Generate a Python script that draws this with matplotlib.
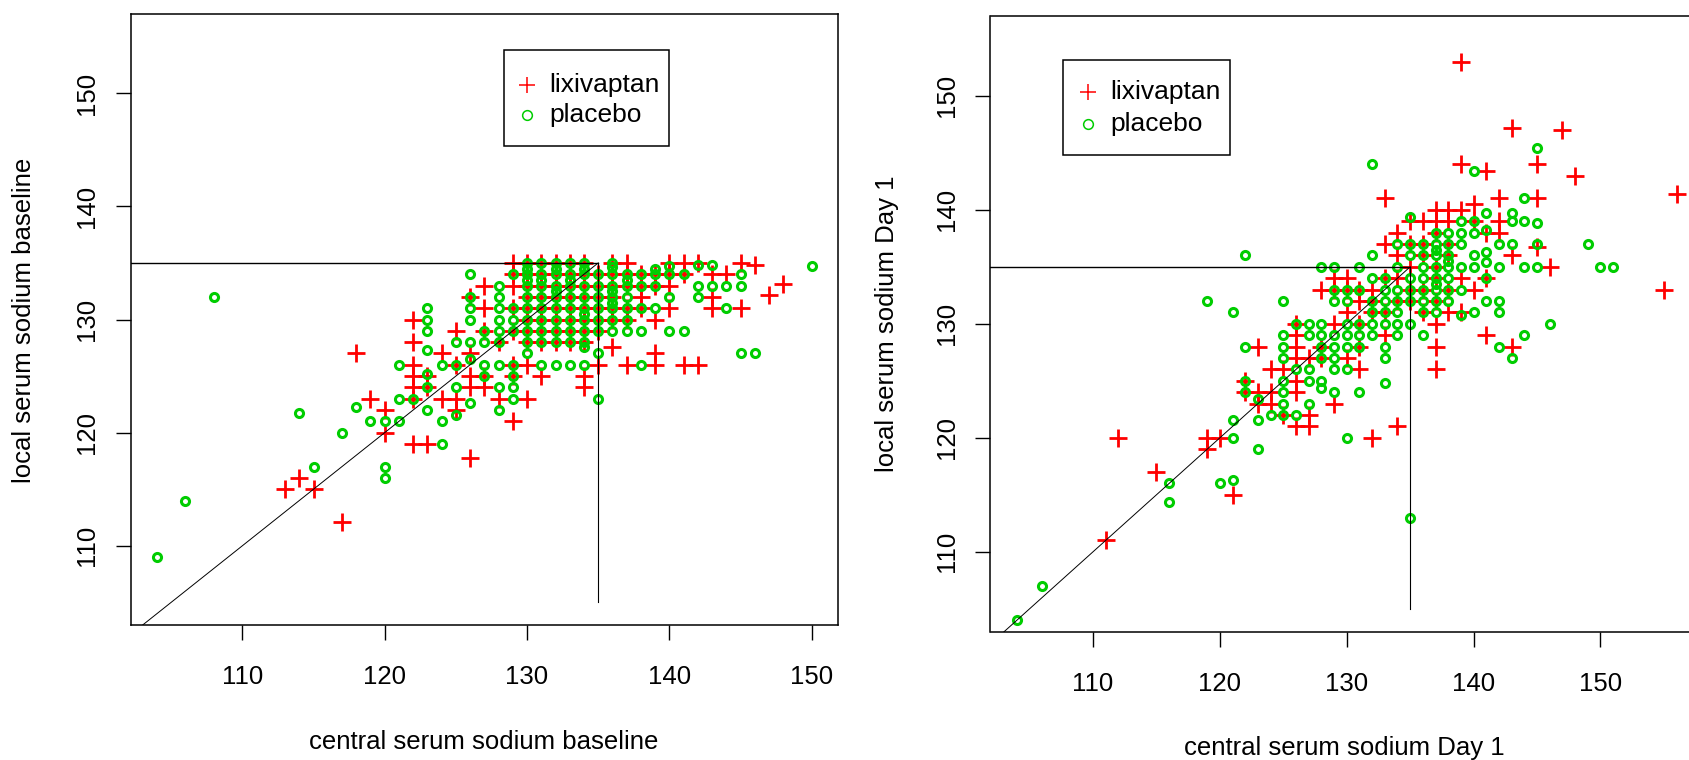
"""Central vs local serum sodium, baseline and Day 1 (two scatter panels)."""

import matplotlib
matplotlib.use("Agg")

import matplotlib.pyplot as plt
from matplotlib.lines import Line2D
from matplotlib.patches import Rectangle

plt.rcParams["font.family"] = ["Liberation Sans", "DejaVu Sans"]

# ==========================================================
# DATA  (x = central, y = local)
# ==========================================================

# --- baseline, lixivaptan ---
base_lix_x = [113, 114, 115, 117, 118, 119, 120, 120,
              122, 122, 122, 122, 122, 122, 122, 123, 123, 123,
              124, 124, 125, 125, 125, 125, 126, 126, 126, 126, 126,
              127, 127, 127, 127, 127, 128, 128,
              129, 129, 129, 129, 129, 129, 129, 129,
              130, 130, 130, 130, 130, 130, 130, 130, 130, 130,
              131, 131, 131, 131, 131, 131, 131, 131, 131,
              132, 132, 132, 132, 132, 132, 132, 132,
              133, 133, 133, 133, 133, 133, 133, 133,
              134, 134, 134, 134, 134, 134, 134, 134, 134, 134,
              135, 135, 135, 135, 135, 135, 135,
              136, 136, 136, 136, 136, 136, 136,
              137, 137, 137, 137, 137, 137,
              138, 138, 138, 138,
              139, 139, 139, 139, 139,
              140, 140, 140, 140,
              141, 141, 141, 142, 142,
              143, 143, 143, 144, 145, 145, 146, 147, 148]
base_lix_y = [115, 116, 115, 112.1, 127, 123, 122, 120,
              130, 128, 126, 125, 124, 123, 119, 119, 125, 124,
              127, 123, 129, 126, 123, 122, 132, 127, 125, 124, 117.8,
              133, 131, 129, 125, 124, 128, 123,
              135, 134, 133, 131, 129, 126, 125, 121,
              135, 134, 133, 132, 131, 130, 129, 128, 126, 123,
              135, 134, 133, 132, 131, 130, 129, 128, 125,
              135, 134, 133, 132, 131, 130, 129, 128,
              135, 134, 133, 132, 131, 130, 129, 128,
              135, 134, 133, 132, 131, 130, 129, 128, 125, 124,
              134, 133, 132, 131, 130, 129, 126,
              135, 134, 133, 132, 131, 130, 127.6,
              135, 134, 133, 131, 130, 126,
              134, 133, 132, 131,
              134, 133, 130, 127, 126,
              135, 134, 133, 131,
              135, 134, 126, 135, 126,
              134, 132, 131, 134, 135, 131, 134.8, 132.2, 133.1]

# --- baseline, placebo ---
base_pla_x = [104, 106, 108, 114, 115, 117, 118, 119, 120, 120, 120,
              121, 121, 121, 122, 123, 123, 123, 123, 123, 123, 123,
              124, 124, 124, 125, 125, 125, 125,
              126, 126, 126, 126, 126, 126, 126,
              127, 127, 127, 127,
              128, 128, 128, 128, 128, 128, 128, 128, 128,
              129, 129, 129, 129, 129, 129, 129, 129,
              130, 130, 130, 130, 130, 130, 130, 130, 130, 130, 130,
              131, 131, 131, 131, 131, 131, 131, 131, 131, 131,
              132, 132, 132, 132, 132, 132, 132, 132, 132, 132, 132,
              133, 133, 133, 133, 133, 133, 133, 133, 133, 133,
              134, 134, 134, 134, 134, 134, 134, 134, 134, 134, 134, 134,
              135, 135, 135, 135, 135, 135, 135, 135,
              136, 136, 136, 136, 136, 136, 136, 136, 136, 136,
              137, 137, 137, 137, 137, 137, 137,
              138, 138, 138, 138, 138,
              139, 139, 139, 139,
              140, 140, 140, 140,
              141, 141, 142, 142, 142, 143, 143,
              144, 144, 145, 145, 145, 146, 150]
base_pla_y = [109, 114, 132, 121.7, 117, 120, 122.3, 121, 121, 117, 116,
              126, 123, 121, 123, 131, 130, 129, 127.3, 125.2, 124, 122,
              126, 121, 119, 128, 126, 124, 121.6,
              134, 132, 131, 130, 128, 126.5, 122.6,
              129, 128, 126, 125,
              133, 132, 131, 130, 129, 128, 126, 124, 122,
              134, 131, 130, 129, 126, 125, 124, 123,
              135, 134.5, 134, 133.5, 133, 132, 131, 130, 129, 128, 127,
              135, 134, 133.5, 133, 132, 131, 130, 129, 128, 126,
              135, 134.5, 134, 133, 132.5, 132, 131, 130, 129, 128, 126,
              135, 134, 133.5, 133, 132, 131, 130, 129, 128, 126,
              135, 134.5, 134, 133, 132, 131, 130.5, 130, 129, 128, 127.6, 126,
              134, 133, 132, 131, 130, 129, 127, 123,
              135, 134.6, 134, 133, 132.5, 132, 131.5, 131, 130, 129,
              134, 133.5, 133, 132, 131, 130, 129,
              134, 133, 131, 129, 126,
              134.5, 134, 133, 131,
              134.7, 134, 132, 129,
              134, 129, 134.8, 133, 132, 134.8, 133,
              133, 131, 134, 133, 127, 127, 134.7]

# --- Day 1, lixivaptan ---
day1_lix_x = [111, 112, 115, 119, 119, 120, 121, 122, 122,
              123, 123, 123, 124, 124, 124, 125, 125,
              126, 126, 126, 126, 126, 126, 126, 127, 127, 127,
              128, 128, 128, 129, 129, 129, 129,
              130, 130, 130, 130, 131, 131, 131, 131, 131,
              132, 132, 132, 132, 133, 133, 133, 133, 133,
              134, 134, 134, 134, 134, 135, 135, 135, 135, 135,
              136, 136, 136, 136, 136,
              137, 137, 137, 137, 137, 137, 137, 137, 137,
              138, 138, 138, 138, 138, 138,
              139, 139, 139, 139, 139, 140, 140, 140,
              141, 141, 141, 141, 142, 142, 142,
              143, 143, 143, 145, 145, 145, 146, 147, 148, 155, 156]
day1_lix_y = [111, 120, 117, 120, 119, 120, 115, 125, 124,
              128, 124, 123, 126, 124, 123, 122, 126,
              130, 129, 128, 127, 125, 124, 121, 127, 122, 121,
              133, 128, 127, 134, 133, 130, 123,
              134, 133, 131, 127, 133, 132, 130, 128, 126,
              133, 132, 131, 120, 141, 137, 134, 131, 129,
              138, 136, 134, 132, 121, 139, 137, 135, 133, 132,
              139, 137, 136, 133, 131,
              140, 139, 138, 135, 134, 132, 130, 128, 126,
              140, 139, 137, 136, 133, 131,
              153, 144, 140, 134, 131, 140.5, 139, 133,
              143.4, 138, 134, 129, 141, 139, 138,
              147.2, 136, 128, 144, 141, 136.7, 135, 147, 143, 133, 141.4]

# --- Day 1, placebo ---
day1_pla_x = [104, 106, 116, 116, 119, 120, 121, 121, 121, 121,
              122, 122, 122, 122, 123, 123, 123, 124,
              125, 125, 125, 125, 125, 125, 125, 125,
              126, 126, 126, 127, 127, 127, 127, 127,
              128, 128, 128, 128, 128, 128, 128,
              129, 129, 129, 129, 129, 129, 129, 129,
              130, 130, 130, 130, 130, 130, 130,
              131, 131, 131, 131, 131, 131,
              132, 132, 132, 132, 132, 132, 132,
              133, 133, 133, 133, 133, 133, 133, 133,
              134, 134, 134, 134, 134, 134, 134,
              135, 135, 135, 135, 135, 135, 135, 135,
              136, 136, 136, 136, 136, 136, 136, 136,
              137, 137, 137, 137, 137, 137, 137, 137, 137, 137,
              138, 138, 138, 138, 138, 138, 138, 138,
              139, 139, 139, 139, 139, 139,
              140, 140, 140, 140, 140, 140,
              141, 141, 141, 141, 141, 141,
              142, 142, 142, 142, 142,
              143, 143, 143, 143, 144, 144, 144, 144,
              145, 145, 145, 145, 146, 149, 150, 151]
day1_pla_y = [104, 107, 116, 114.4, 132, 116, 131, 120, 121.6, 116.3,
              136, 128, 125, 124, 123.4, 121.6, 119, 122,
              132, 129, 128, 127, 125, 124, 123, 122,
              130, 126, 122, 130, 129, 126, 125, 123,
              135, 130, 129, 128, 127, 125, 124.4,
              135, 133, 132, 129, 128, 127, 126, 124,
              133, 132, 130, 129, 128, 126, 120,
              135, 133, 130, 129, 128, 124,
              144, 136, 134, 132, 131, 130, 129,
              134, 133, 132, 131, 130, 128, 127, 124.8,
              137, 135, 133, 132, 131, 130, 129,
              113, 139.4, 137, 136, 134, 133, 132, 130,
              137, 136, 135, 134, 133, 132, 131, 129,
              138, 137, 136.5, 136, 135, 134, 133.5, 133, 132, 131,
              138, 137, 136, 135.5, 135, 134, 133, 132,
              139, 138, 137, 135, 133, 130.8,
              143.4, 139, 138, 136, 135, 131,
              139.7, 138.2, 136.3, 135.4, 134, 132,
              137, 135, 132, 131, 128,
              139.7, 139, 137, 127, 141, 139, 135, 129,
              145.4, 138.8, 137, 135, 130, 137, 135, 135]

x_ticks = [110, 120, 130, 140, 150]
y_ticks = [110, 120, 130, 140, 150]
cutoff = 135

RED = "#FF0000"
GREEN = "#00CD00"
FS = 18.5

# ==========================================================
# FIGURE LAYOUT (pixel boxes -> figure fractions)
# ==========================================================

W, H = 1690, 760
fig = plt.figure(figsize=(W / 100, H / 100), dpi=100, facecolor="white")


def px_box(l, t, r, b):
    return [l / W, 1 - b / H, (r - l) / W, (b - t) / H]


ax1 = fig.add_axes(px_box(130.7, 14, 838, 625))
ax2 = fig.add_axes(px_box(990.5, 16, 1703, 631.6))


def panel(ax, lx, ly, qx, qy, xlim):
    ax.plot(lx, ly, ls="none", marker="+", ms=13, mew=2.0, color=RED)
    ax.plot(qx, qy, ls="none", marker="o", ms=5.8, mew=2.2,
            mfc="none", mec=GREEN)

    # reference lines: identity up to cutoff, and cutoff box
    ax.plot([95, cutoff], [95, cutoff], color="black", lw=0.7)
    ax.plot([95, cutoff], [cutoff, cutoff], color="black", lw=1.0)
    ax.plot([cutoff, cutoff], [cutoff, 105], color="black", lw=0.8)

    ax.set_xlim(*xlim)
    ax.set_ylim(103, 157)
    ax.set_xticks(x_ticks)
    ax.set_yticks(y_ticks)
    ax.tick_params(direction="out", length=11, width=1.0,
                   labelsize=FS, color="black")
    ax.tick_params(axis="x", pad=18)
    ax.tick_params(axis="y", pad=12)
    for lab in ax.get_yticklabels():
        lab.set_rotation(90)
        lab.set_va("center")
    for sp in ax.spines.values():
        sp.set_linewidth(1.1)


panel(ax1, base_lix_x, base_lix_y, base_pla_x, base_pla_y, (102.16, 151.84))
panel(ax2, day1_lix_x, day1_lix_y, day1_pla_x, day1_pla_y, (101.92, 158.08))

# ==========================================================
# AXIS LABELS
# ==========================================================

fig.text(484 / W, 1 - 742 / H, "central serum sodium baseline",
         ha="center", va="center", fontsize=FS)
fig.text(24 / W, 1 - 320 / H, "local serum sodium baseline",
         rotation=90, ha="center", va="center", fontsize=FS)
fig.text(1344 / W, 1 - 748 / H, "central serum sodium Day 1",
         ha="center", va="center", fontsize=FS)
fig.text(887 / W, 1 - 324 / H, "local serum sodium Day 1",
         rotation=90, ha="center", va="center", fontsize=FS)

# ==========================================================
# LEGENDS (drawn by hand, R style box)
# ==========================================================


def legend_box(l, t, r, b, mx, tx, rows):
    fig.add_artist(Rectangle((l / W, 1 - b / H), (r - l) / W, (b - t) / H,
                             transform=fig.transFigure, fill=False,
                             edgecolor="black", lw=1.1))
    fig.add_artist(Line2D([mx / W], [1 - rows[0] / H], marker="+", ms=12,
                          mew=1.1, color=RED, transform=fig.transFigure))
    fig.add_artist(Line2D([mx / W], [1 - rows[1] / H], marker="o", ms=7,
                          mew=1.1, mfc="none", mec=GREEN,
                          transform=fig.transFigure))
    fig.text(tx / W, 1 - rows[0] / H, "lixivaptan", ha="left",
             va="center", fontsize=FS + 0.5)
    fig.text(tx / W, 1 - rows[1] / H, "placebo", ha="left",
             va="center", fontsize=FS + 0.5)


legend_box(504, 50.4, 669, 146.4, 527, 549.6, (85.3, 115.4))
legend_box(1063, 59.6, 1230, 155, 1088.5, 1110.6, (92, 123.6))

fig.savefig("out.png", dpi=100, facecolor="white")
plt.close()
